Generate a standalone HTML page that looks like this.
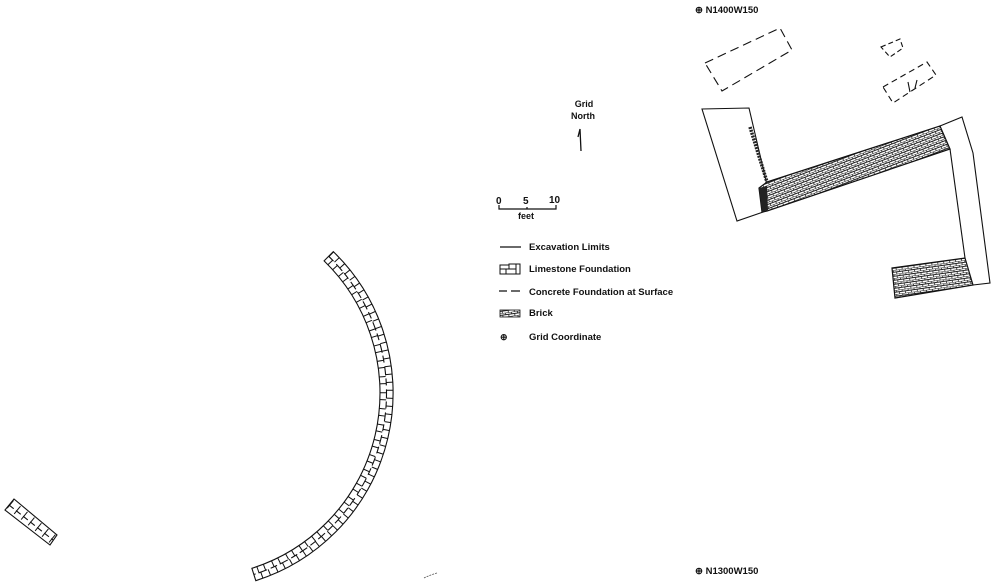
<!DOCTYPE html>
<html><head><meta charset="utf-8"><style>
html,body{margin:0;padding:0;background:#fff;}
body{width:1000px;height:587px;overflow:hidden;position:relative;}
svg{position:absolute;left:0;top:0;}
text{font-family:"Liberation Sans",Arial,sans-serif;font-weight:bold;fill:#111;}
</style></head><body>
<svg width="1000" height="587" viewBox="0 0 1000 587" xmlns="http://www.w3.org/2000/svg">
<defs>
<pattern id="brick" width="6" height="4" patternUnits="userSpaceOnUse" patternTransform="rotate(-21)">
<rect width="6" height="4" fill="#fff"/>
<line x1="0" y1="0" x2="6" y2="0" stroke="#222" stroke-width="1"/>
<line x1="0" y1="2" x2="6" y2="2" stroke="#222" stroke-width="1"/>
<line x1="1" y1="0" x2="1" y2="2" stroke="#222" stroke-width="0.8"/>
<line x1="4" y1="2" x2="4" y2="4" stroke="#222" stroke-width="0.8"/>
</pattern>
<pattern id="brick2" width="6" height="4" patternUnits="userSpaceOnUse" patternTransform="rotate(-8)">
<rect width="6" height="4" fill="#fff"/>
<line x1="0" y1="0" x2="6" y2="0" stroke="#222" stroke-width="1"/>
<line x1="0" y1="2" x2="6" y2="2" stroke="#222" stroke-width="1"/>
<line x1="1" y1="0" x2="1" y2="2" stroke="#222" stroke-width="0.8"/>
<line x1="4" y1="2" x2="4" y2="4" stroke="#222" stroke-width="0.8"/>
</pattern>
</defs>
<g fill="none" stroke="#111" stroke-width="1.1">
<!-- big arc band: center (196,393), r 184..197 -->
<path d="M333.3,251.6 A197,197 0 0 1 255.8,580.7 L251.9,568.3 A184,184 0 0 0 324.1,260.9 Z"/>
<path d="M328.6,256.2 A190.5,190.5 0 0 1 253.8,574.5" stroke-dasharray="7 4 9 3"/>
<path d="M330.9,253.9 A193.5,193.5 0 0 1 254.8,577.6" stroke-width="6.5" stroke-dasharray="1 7"/>
<path d="M326.4,258.6 A187.5,187.5 0 0 1 252.9,571.4" stroke-width="6.5" stroke-dasharray="1 8 1 6" stroke-dashoffset="4"/>
<!-- small band -->
<path d="M5,510 L14,499 L57,535 L50,545 Z"/>
<path d="M9,505 L53,540" stroke-dasharray="6 3"/>
<path d="M10,504 L54,540" stroke-width="10" stroke-dasharray="1 8"/>
<!-- dashed concrete -->
<g stroke-dasharray="9 5">
<path d="M705,63 L780,28 L792,50 L722,91 Z"/>
<path d="M881,47 L900,39 L903,48 L890,57 Z" stroke-dasharray="5 3"/>
<path d="M883,87 L927,62 L936,75 L893,103 Z" stroke-dasharray="6 4"/>
</g>
<path d="M908,82 L910,92 M917,80 L915,88"/>
<!-- excavation limits -->
<path d="M767,185 L749,108 L702,109 L737,221 L766,211"/>
<path d="M940,126 L962,117 L973,153 L990,283 L973,285"/>
<path d="M950,149 L965,258"/>
</g>
<!-- brick areas -->
<path d="M767,182 L940,126 L950,149 L767,211 L762,212 L759,188 Z" fill="url(#brick)" stroke="#111" stroke-width="1.2"/>
<path d="M759,188 L767,186 L768,210 L762,212 Z" fill="#222"/>
<path d="M892,268 L965,258 L973,285 L895,298 Z" fill="url(#brick2)" stroke="#111" stroke-width="1.2"/>
<!-- limestone strip on left -->
<path d="M750,127 L767,182" stroke="#222" stroke-width="3.5" stroke-dasharray="2 1"/>
<!-- Grid north -->
<text x="584" y="107" font-size="9" text-anchor="middle">Grid</text>
<text x="583" y="119" font-size="9" text-anchor="middle">North</text>
<path d="M581,151 L580,129 L578,137" fill="none" stroke="#111" stroke-width="1.3"/>
<!-- scale -->
<text x="496" y="204" font-size="10">0</text>
<text x="523" y="204" font-size="10">5</text>
<text x="549" y="203" font-size="10">10</text>
<path d="M499,205 L499,209 L556,209 L556,205 M527,207 L527,209" fill="none" stroke="#111" stroke-width="1.2"/>
<text x="518" y="219" font-size="9">feet</text>
<!-- legend -->
<line x1="500" y1="247" x2="521" y2="247" stroke="#111" stroke-width="1.2"/>
<text x="529" y="250" font-size="9.5">Excavation Limits</text>
<g fill="none" stroke="#111" stroke-width="1">
<rect x="500" y="265" width="9" height="4"/><rect x="509" y="264" width="7" height="5"/><rect x="516" y="264" width="4" height="10"/>
<rect x="500" y="269" width="6" height="5"/><rect x="506" y="269" width="10" height="5"/>
</g>
<text x="529" y="272" font-size="9.5">Limestone Foundation</text>
<path d="M499,291 L507,291 M511,291 L520,291" stroke="#111" stroke-width="1.3"/>
<text x="529" y="295" font-size="9.5">Concrete Foundation at Surface</text>
<rect x="500" y="310" width="20" height="7" fill="url(#brick2)" stroke="#111" stroke-width="0.8"/>
<text x="529" y="316" font-size="9.5">Brick</text>
<text x="500" y="340" font-size="9">⊕</text>
<text x="529" y="340" font-size="9.5">Grid Coordinate</text>
<!-- coordinates -->
<text x="695" y="13" font-size="9.5">⊕ N1400W150</text>
<text x="695" y="574" font-size="9.5">⊕ N1300W150</text>
<path d="M424,578 Q430,575 437,573" fill="none" stroke="#555" stroke-width="0.8" stroke-dasharray="2 1"/>
</svg>
</body></html>
